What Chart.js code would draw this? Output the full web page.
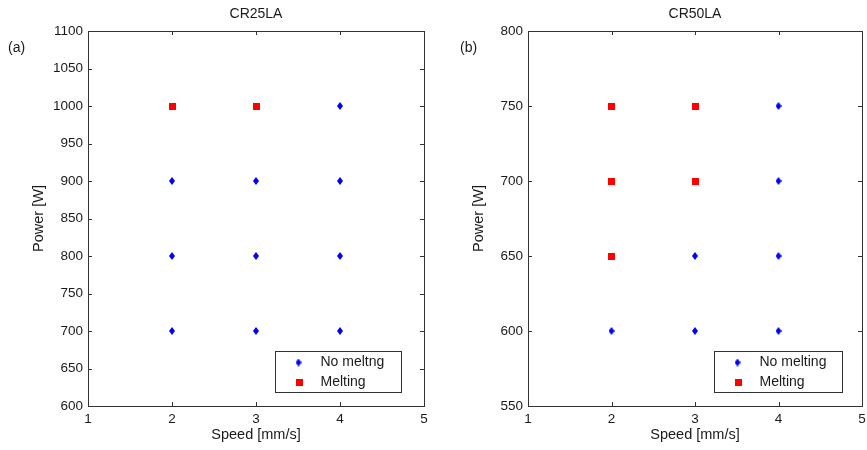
<!DOCTYPE html>
<html>
<head>
<meta charset="utf-8">
<script src="https://cdn.jsdelivr.net/npm/chart.js@4"></script>
<style>
  body { margin: 0; background: #fff; overflow: hidden; }
  #wrap { position: relative; width: 867px; height: 450px; }
  canvas { position: absolute; top: 0; }
</style>
</head>
<body>
<div id="wrap">
  <canvas id="chartA" width="433" height="450" style="left:0"></canvas>
  <canvas id="chartB" width="427" height="450" style="left:440px"></canvas>
</div>
<script>
// panel (a) CR25LA
const noMeltSpeedA = [2, 2, 2, 3, 3, 3, 4, 4, 4, 4];
const noMeltPowerA = [700, 800, 900, 700, 800, 900, 700, 800, 900, 1000];
const meltSpeedA = [2, 3];
const meltPowerA = [1000, 1000];

// panel (b) CR50LA
const noMeltSpeedB = [2, 3, 3, 4, 4, 4, 4];
const noMeltPowerB = [600, 600, 650, 600, 650, 700, 750];
const meltSpeedB = [2, 2, 2, 3, 3];
const meltPowerB = [650, 700, 750, 700, 750];

const speedRange = [1, 5];
const powerRangeA = [600, 1100];
const powerRangeB = [550, 800];

const FONT = 'Liberation Sans, Arial, sans-serif';
const INK = '#1a1a1a';

// blue diamond marker like matlab 'd'
const diamond = document.createElement('canvas');
diamond.width = 6; diamond.height = 8;
(function () {
  const c = diamond.getContext('2d');
  c.fillStyle = '#0000ff';
  c.beginPath();
  c.moveTo(3, 0); c.lineTo(6, 4); c.lineTo(3, 8); c.lineTo(0, 4);
  c.closePath(); c.fill();
})();

const square = document.createElement('canvas');
square.width = 7; square.height = 7;
(function () {
  const c = square.getContext('2d');
  c.fillStyle = '#ff0000';
  c.fillRect(0, 0, 7, 7);
})();

const pts = (xs, ys) => xs.map((x, i) => ({ x: x, y: ys[i] }));

// box, inward ticks, legend, panel letter
const matlabAxes = {
  id: 'matlabAxes',
  afterDraw(chart, args, opts) {
    const ctx = chart.ctx;
    const a = chart.chartArea;
    const xs = chart.scales.x, ys = chart.scales.y;
    ctx.save();
    ctx.strokeStyle = '#333';
    ctx.lineWidth = 1;
    ctx.strokeRect(Math.round(a.left) + 0.5, Math.round(a.top) + 0.5,
      Math.round(a.right - a.left), Math.round(a.bottom - a.top));
    ctx.beginPath();
    xs.ticks.forEach(t => {
      const px = Math.round(xs.getPixelForValue(t.value)) + 0.5;
      ctx.moveTo(px, a.bottom); ctx.lineTo(px, a.bottom - 4);
      ctx.moveTo(px, a.top); ctx.lineTo(px, a.top + 4);
    });
    ys.ticks.forEach(t => {
      const py = Math.round(ys.getPixelForValue(t.value)) + 0.5;
      ctx.moveTo(a.left, py); ctx.lineTo(a.left + 4, py);
      ctx.moveTo(a.right, py); ctx.lineTo(a.right - 4, py);
    });
    ctx.stroke();

    // legend
    const lw = opts.legendW, lh = 41;
    const lx = Math.round(a.right - opts.legendRight - lw) + 0.5;
    const ly = Math.round(a.bottom - 14 - lh) + 0.5;
    ctx.fillStyle = '#fff';
    ctx.fillRect(lx, ly, lw, lh);
    ctx.strokeRect(lx, ly, lw, lh);
    ctx.drawImage(diamond, lx + 20, ly + 7);
    ctx.drawImage(square, lx + 20, ly + 27);
    ctx.fillStyle = INK;
    ctx.font = '14px ' + FONT;
    ctx.textBaseline = 'middle';
    ctx.textAlign = 'left';
    ctx.fillText(opts.names[0], lx + 45, ly + 11);
    ctx.fillText(opts.names[1], lx + 45, ly + 31);

    // panel letter
    ctx.fillText(opts.panel, opts.panelX, 48);
    ctx.restore();
  }
};

function makeChart(id, noMelt, melt, yRange, title, names, panel, panelX, padRight, legendW, legendRight) {
  return new Chart(document.getElementById(id), {
    type: 'scatter',
    data: {
      datasets: [
        { label: names[0], data: noMelt, pointStyle: diamond, pointRadius: 4 },
        { label: names[1], data: melt, pointStyle: square, pointRadius: 4 }
      ]
    },
    options: {
      responsive: false,
      animation: false,
      layout: { padding: { left: 0, right: padRight, top: 0, bottom: 0 } },
      plugins: {
        legend: { display: false },
        tooltip: { enabled: false },
        title: {
          display: true, text: title, fullSize: false, color: INK,
          font: { family: FONT, size: 14, weight: 'normal' },
          padding: { top: 6, bottom: 8.2 }
        },
        matlabAxes: { names: names, panel: panel, panelX: panelX, legendW: legendW, legendRight: legendRight }
      },
      scales: {
        x: {
          type: 'linear', min: speedRange[0], max: speedRange[1],
          ticks: { stepSize: 1, color: INK, padding: 5, font: { family: FONT, size: 13.5 }, callback: v => String(v) },
          grid: { display: false, drawTicks: false },
          border: { display: false },
          title: { display: true, text: 'Speed [mm/s]', color: INK, font: { family: FONT, size: 14.5 }, padding: { top: 0, bottom: 6 } },
          afterFit: s => { s.height = 44; s.paddingLeft = 0; s.paddingRight = 0; }
        },
        y: {
          type: 'linear', min: yRange[0], max: yRange[1],
          ticks: { stepSize: 50, color: INK, padding: 5, font: { family: FONT, size: 13.5 }, callback: v => String(v) },
          grid: { display: false, drawTicks: false },
          border: { display: false },
          title: { display: true, text: 'Power [W]', color: INK, font: { family: FONT, size: 14.5 }, padding: { top: 30, bottom: 0 } },
          afterFit: s => { s.width = 88; s.paddingTop = 0; s.paddingBottom = 0; }
        }
      }
    },
    plugins: [matlabAxes]
  });
}

makeChart('chartA', pts(noMeltSpeedA, noMeltPowerA), pts(meltSpeedA, meltPowerA), powerRangeA,
  'CR25LA', ['No meltng', 'Melting'], '(a)', 8, 9, 126, 23);
makeChart('chartB', pts(noMeltSpeedB, noMeltPowerB), pts(meltSpeedB, meltPowerB), powerRangeB,
  'CR50LA', ['No melting', 'Melting'], '(b)', 20, 3, 128, 20);
</script>
</body>
</html>
